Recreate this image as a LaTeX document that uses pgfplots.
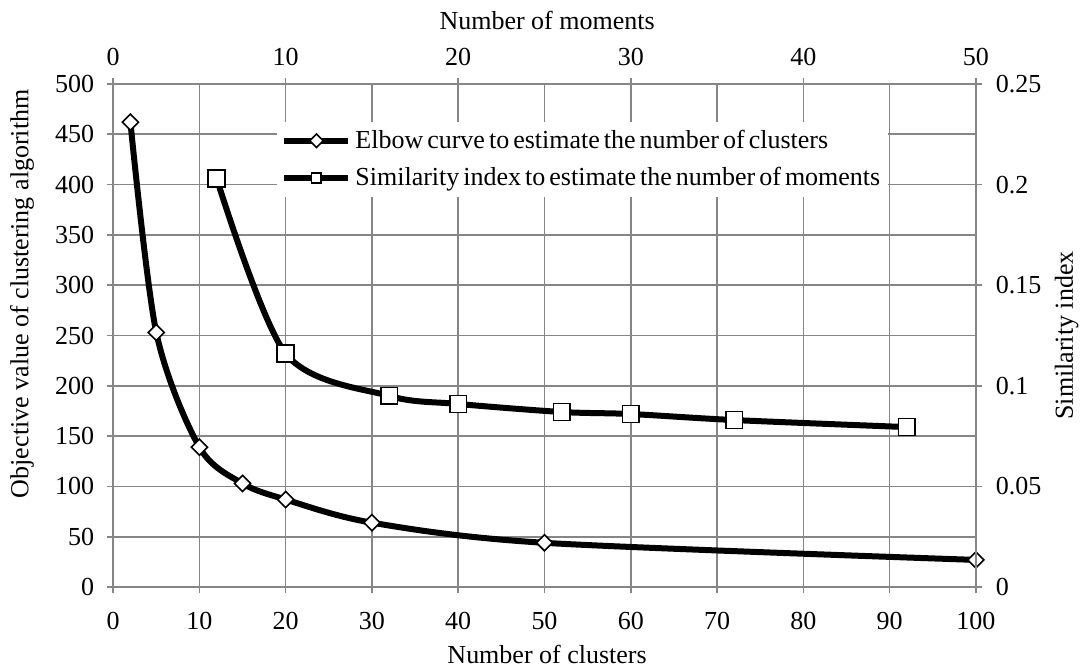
\documentclass[border=0pt]{standalone}
\usepackage{fontspec}
\setmainfont{Liberation Serif}
\newfontfamily\legfont[WordSpace=0.62]{Liberation Serif}
\usepackage{pgfplots}
\pgfplotsset{compat=1.18}
\definecolor{gridgray}{RGB}{134,134,134}
\begin{document}
\begin{tikzpicture}[font=\fontsize{13}{15.6}\selectfont]
\path[use as bounding box] (-56.6pt,-41.85pt) rectangle (485.1pt,293.65pt);
\pgfplotsset{
  common/.style={
    scale only axis, width=431.5pt, height=251.65pt,
    at={(0pt,0pt)}, anchor=south west,
    axis line style={gridgray, line width=0.8pt},
    tick style={gridgray, line width=0.8pt},
    major tick length=3pt, tick align=outside,
    /pgf/number format/assume math mode=true,
    tick label style={font=\fontsize{13}{15.6}\selectfont, text=black},
    label style={font=\fontsize{13}{15.6}\selectfont, text=black},
    clip=false,
  },
  elbow/.style={black, line width=3pt, smooth, mark=square*, mark size=2.85pt,
    mark options={solid, fill=white, draw=black, line width=0.8pt, rotate=45}},
  simil/.style={black, line width=3pt, smooth, mark=square*, mark size=4.2pt,
    mark options={solid, fill=white, draw=black, line width=0.8pt}},
}
\begin{axis}[common,
  xmin=0, xmax=100, ymin=0, ymax=500,
  xtick={0,10,...,100}, ytick={0,50,...,500},
  xtick pos=bottom, ytick pos=left,
  xticklabel style={yshift=-6pt},
  yticklabel style={xshift=-3pt},
  grid=major, major grid style={gridgray, line width=0.8pt},
  xlabel={Number of clusters},
  ylabel={Objective value of clustering algorithm},
  xlabel style={at={(axis description cs:0.503,-0.1347)}, anchor=center},
  ylabel style={at={(axis description cs:-0.1057,0.583)}, anchor=center},
]
\addplot[elbow] coordinates {
  (2,462) (5,253) (10,139) (15,103) (20,87) (30,64) (50,44) (100,27)
};
\end{axis}
\begin{axis}[common,
  xmin=0, xmax=50, ymin=0, ymax=0.25,
  axis x line*=top, axis y line*=right,
  x axis line style={-}, y axis line style={-},
  xtick={0,10,...,50},
  ytick={0,0.05,0.1,0.15,0.2,0.25},
  yticklabels={0,0.05,0.1,0.15,0.2,0.25},
  xticklabel style={yshift=2.5pt},
  yticklabel style={xshift=3.5pt},
  xlabel={Number of moments},
  ylabel={Similarity index},
  xlabel style={at={(axis description cs:0.503,1.127)}, anchor=center},
  ylabel style={at={(axis description cs:1.1054,0.5)}, anchor=center},
  legend style={at={(axis description cs:0.190,0.925)}, anchor=north west,
    draw=none, fill=white, font=\fontsize{13}{15.6}\legfont,
    row sep=4pt, inner sep=2pt},
  legend cell align=left,
  legend image code/.code={\draw[#1, mark size=2.4pt, mark repeat=2, mark phase=2]
    plot coordinates {(0pt,0pt) (16pt,0pt) (32pt,0pt)};},
]
\addlegendimage{elbow, mark size=1.8pt}
\addlegendentry{Elbow curve to estimate the number of clusters}
\addplot[simil] coordinates {
  (6,0.203) (10,0.116) (16,0.095) (20,0.091) (26,0.087) (30,0.086) (36,0.083) (46,0.0795)
};
\addlegendentry{Similarity index to estimate the number of moments}
\end{axis}
\end{tikzpicture}
\end{document}
